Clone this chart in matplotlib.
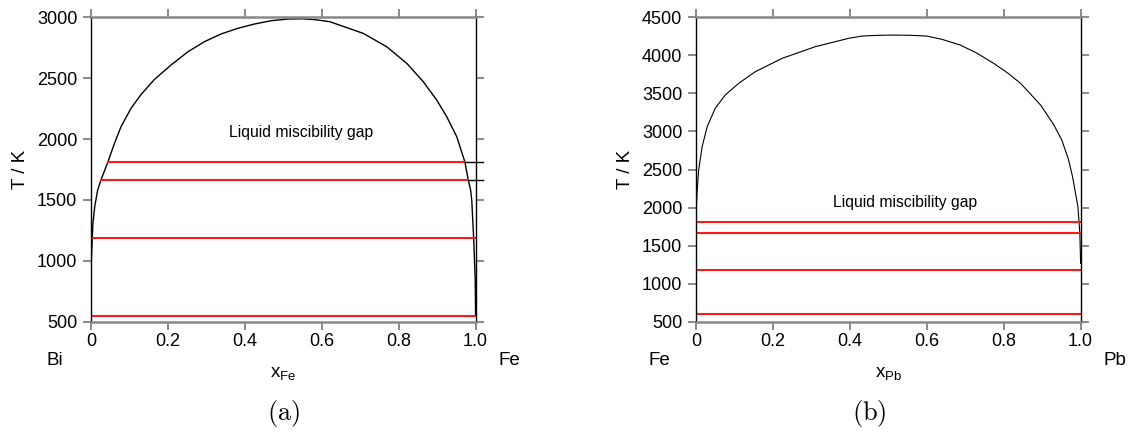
import matplotlib
matplotlib.use("Agg")
import matplotlib.pyplot as plt

plt.rcParams['font.family'] = ['Liberation Sans', 'DejaVu Sans']
plt.rcParams['mathtext.fontset'] = 'custom'
plt.rcParams['mathtext.rm'] = 'Liberation Sans'
plt.rcParams['mathtext.it'] = 'Liberation Sans'

# (a) Bi-Fe miscibility gap
a_x = [0.0, 0.001, 0.005, 0.010, 0.0174, 0.026, 0.0304, 0.0435, 0.061, 0.078,
       0.104, 0.130, 0.165, 0.208, 0.252, 0.295, 0.338, 0.382, 0.425, 0.468,
       0.512, 0.551, 0.585, 0.621, 0.708, 0.769, 0.821, 0.864, 0.899, 0.925,
       0.951, 0.972, 0.981, 0.987, 0.990, 0.995, 0.999, 1.0]
a_T = [544, 1004, 1306, 1450, 1581, 1663, 1700, 1808, 1964, 2101,
       2252, 2365, 2490, 2608, 2717, 2800, 2863, 2910, 2945, 2972,
       2986, 2988, 2980, 2964, 2868, 2758, 2622, 2471, 2320, 2183,
       2019, 1813, 1663, 1581, 1497, 1179, 840, 544]
a_lines_T = [1811, 1667, 1185, 544]
a_lines_x0 = [0.0435, 0.026, 0.0, 0.0]
a_lines_x1 = [0.972, 0.981, 1.0, 1.0]

# (b) Fe-Pb miscibility gap
b_x = [0.0, 0.0026, 0.007, 0.016, 0.029, 0.050, 0.076, 0.111, 0.154, 0.224,
       0.310, 0.397, 0.432, 0.47, 0.513, 0.555, 0.600, 0.64, 0.687, 0.73,
       0.774, 0.81, 0.844, 0.896, 0.930, 0.951, 0.968, 0.979, 0.993, 0.998, 1.0]
b_T = [1811, 2187, 2493, 2799, 3062, 3304, 3479, 3632, 3785, 3961,
       4114, 4224, 4254, 4263, 4267, 4264, 4254, 4210, 4136, 4030,
       3895, 3770, 3632, 3347, 3090, 2888, 2640, 2406, 2012, 1661, 1267]
b_lines_T = [1811, 1667, 1185, 601]

fig = plt.figure(figsize=(11.3, 4.32), dpi=100)
ax1 = fig.add_axes([0.0805, 0.2553, 0.3404, 0.7046])
ax2 = fig.add_axes([0.6159, 0.2553, 0.3404, 0.7046])


def style(ax, ymin, ymax, left, right, comp, letter, letter_x):
    ax.set_xlim(0, 1)
    ax.set_ylim(ymin, ymax)
    ax.set_xticks([0, 0.2, 0.4, 0.6, 0.8, 1.0])
    ax.set_xticklabels(['0', '0.2', '0.4', '0.6', '0.8', '1.0'])
    ax.set_yticks(range(ymin, ymax + 1, 500))
    for s in ['top', 'bottom']:
        ax.spines[s].set_color('#888888')
        ax.spines[s].set_linewidth(1.8)
    for s in ['left', 'right']:
        ax.spines[s].set_color('black')
        ax.spines[s].set_linewidth(1.0)
    ax.tick_params(direction='out', length=5.8, width=1.2, color='#777777',
                   labelsize=13, top=True, right=True)
    ax.tick_params(axis='y', pad=4)
    ax.tick_params(axis='x', pad=2)
    ax.set_ylabel('T / K', fontsize=13.5, labelpad=6)
    ax.set_xlabel('x$_{\\mathrm{' + comp + '}}$', fontsize=13.5, labelpad=11)
    ax.text(-0.094, -0.126, left, transform=ax.transAxes, fontsize=13.5,
            ha='center', va='center')
    ax.text(1.089, -0.126, right, transform=ax.transAxes, fontsize=13.5,
            ha='center', va='center')
    ax.text(letter_x, -0.30, '$\\mathrm{(' + letter + ')}$', transform=ax.transAxes,
            fontsize=19, ha='center', va='center', math_fontfamily='cm')


ax1.plot(a_x, a_T, color='black', lw=1.0)
for T, x0, x1 in zip(a_lines_T, a_lines_x0, a_lines_x1):
    ax1.plot([x0, x1], [T, T], color='#ff1a1a', lw=1.5)
    if x1 < 1.0:
        ax1.plot([x1, 1.02], [T, T], color='black', lw=1.0, clip_on=False)
ax1.text(0.545, 2050, 'Liquid miscibility gap', fontsize=11.3, ha='center', va='center')
style(ax1, 500, 3000, 'Bi', 'Fe', 'Fe', 'a', 0.5)

ax2.plot(b_x, b_T, color='black', lw=0.8)
for T in b_lines_T:
    ax2.plot([0, 1.0], [T, T], color='#ff1a1a', lw=1.5)
ax2.text(0.543, 2064, 'Liquid miscibility gap', fontsize=11.3, ha='center', va='center')
style(ax2, 500, 4500, 'Fe', 'Pb', 'Pb', 'b', 0.45)

fig.savefig('out.png', dpi=100)
